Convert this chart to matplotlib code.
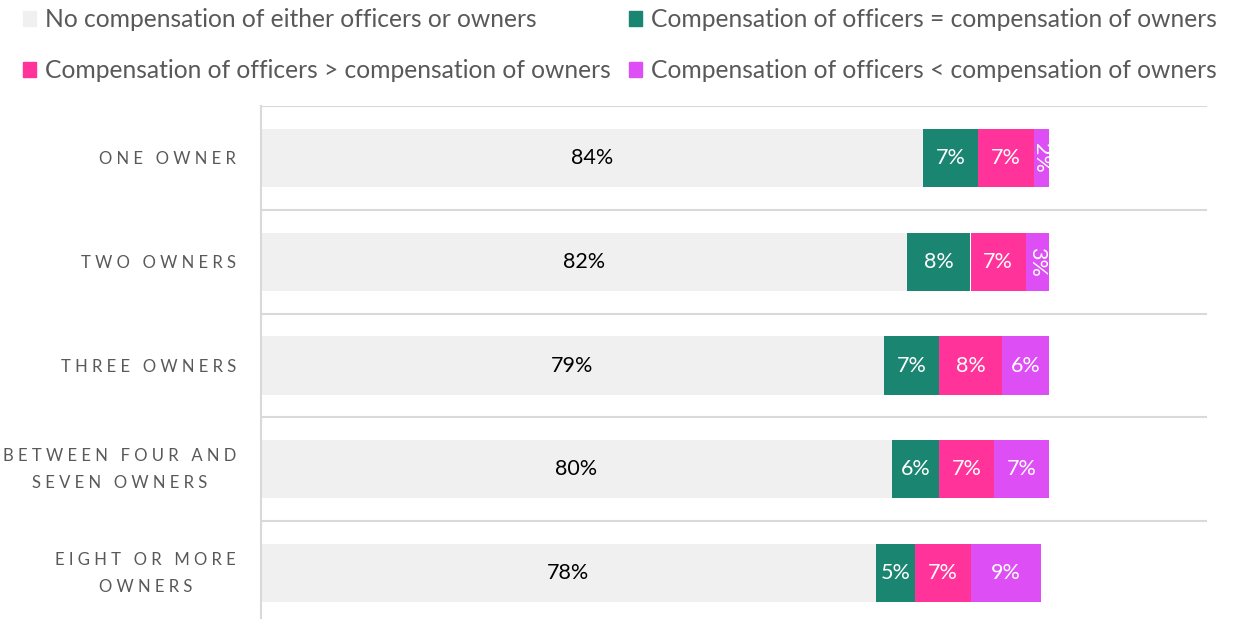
import numpy as np
import matplotlib
matplotlib.use("Agg")
import matplotlib.pyplot as plt
from matplotlib.patches import Patch

plt.rcParams['font.family'] = ['Lato', 'DejaVu Sans']

categories = ["ONE OWNER", "TWO OWNERS", "THREE OWNERS",
              "BETWEEN FOUR AND\nSEVEN OWNERS", "EIGHT OR MORE\nOWNERS"]
no_comp = [84, 82, 79, 80, 78]
comp_equal = [7, 8, 7, 6, 5]
comp_greater = [7, 7, 8, 7, 7]
comp_less = [2, 3, 6, 7, 9]

series_names = ["No compensation of either officers or owners",
                "Compensation of officers = compensation of owners",
                "Compensation of officers > compensation of owners",
                "Compensation of officers < compensation of owners"]
colors = ["#f0f0f0", "#1a8570", "#ff3399", "#dd4ff5"]
text_colors = ["black", "white", "white", "white"]


def spaced(label):
    # emulate the wide letter spacing of the category labels
    lines = []
    for line in label.split("\n"):
        words = [" ".join(w) for w in line.split(" ")]
        lines.append("   ".join(words))
    return "\n".join(lines)


fig = plt.figure(figsize=(12.33, 6.19), dpi=100)
ax = fig.add_axes([261 / 1233, 0, (1207 - 261) / 1233, 1 - 106 / 619])

y = np.arange(len(categories))
data = [no_comp, comp_equal, comp_greater, comp_less]
left = np.zeros(len(categories))
for vals, col, tc in zip(data, colors, text_colors):
    vals = np.array(vals) / 100
    ax.barh(y, vals, left=left, height=0.56, color=col, zorder=2)
    for yi, v, l in zip(y, vals, left):
        rot = -90 if v < 0.04 else 0
        ax.text(l + v / 2, yi, f"{round(v * 100)}%", ha="center", va="center",
                color=tc, fontsize=15.5, rotation=rot, zorder=3)
    left += vals

ax.set_xlim(0, 1.2)
ax.set_ylim(4.442, -0.5)
ax.set_xticks([])
ax.set_yticks(y)
ax.set_yticklabels([spaced(c) for c in categories], fontsize=12,
                   color="#595959", multialignment="center", linespacing=1.85)
for lab in ax.get_yticklabels():
    if "\n" in lab.get_text():
        lab.set_va("center")
ax.tick_params(axis="y", length=0, pad=18)

for b in np.arange(-0.5, 4.5, 1.0):
    ax.axhline(b, color="#d9d9d9", lw=1.5, zorder=1)
for s in ["top", "right", "bottom"]:
    ax.spines[s].set_visible(False)
ax.spines["left"].set_color("#d9d9d9")
ax.spines["left"].set_linewidth(1.5)

handles = [Patch(color=c) for c in colors]
order = [0, 2, 1, 3]
fig.legend([handles[i] for i in order], [series_names[i] for i in order],
           ncol=2, loc="upper left", bbox_to_anchor=(1 / 1233, 1 + 14 / 619),
           frameon=False, fontsize=17.7, handlelength=0.53, handleheight=0.53,
           handletextpad=0.35, columnspacing=0.75, labelspacing=1.15,
           labelcolor="#595959")

fig.savefig("out.png", dpi=100)
